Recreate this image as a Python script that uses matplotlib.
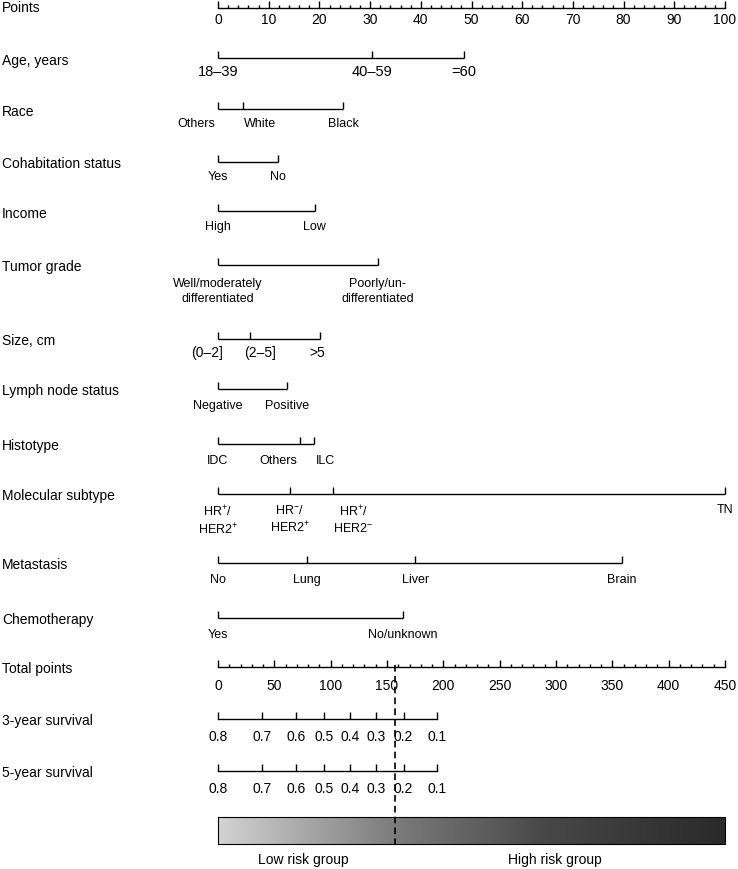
import numpy as np
import matplotlib
matplotlib.use("Agg")
import matplotlib.pyplot as plt
from matplotlib.colors import LinearSegmentedColormap
from matplotlib.transforms import blended_transform_factory

plt.rcParams['font.family'] = ['Liberation Sans', 'DejaVu Sans']
plt.rcParams['mathtext.fontset'] = 'custom'
plt.rcParams['mathtext.rm'] = 'Liberation Sans'
plt.rcParams['mathtext.it'] = 'Liberation Sans:italic'

# ---- data ----
age_levels = ['18–39', '40–59', '=60']
age_pts = [0, 30.4, 48.5]
race_levels = ['Others', 'White', 'Black']
race_pts = [0, 4.9, 24.7]
cohab_levels = ['Yes', 'No']
cohab_pts = [0, 11.8]
income_levels = ['High', 'Low']
income_pts = [0, 19.1]
grade_levels = ['Well/moderately\ndifferentiated', 'Poorly/un-\ndifferentiated']
grade_pts = [0, 31.5]
size_levels = ['(0–2]', '(2–5]', '>5']
size_pts = [0, 6.3, 20.1]
lymph_levels = ['Negative', 'Positive']
lymph_pts = [0, 13.7]
histo_levels = ['IDC', 'Others', 'ILC']
histo_pts = [0, 16.2, 18.9]
subtype_levels = ['HR$^{+}$/\nHER2$^{+}$', 'HR$^{-}$/\nHER2$^{+}$', 'HR$^{+}$/\nHER2$^{-}$', 'TN']
subtype_pts = [0, 14.2, 22.7, 100]
meta_levels = ['No', 'Lung', 'Liver', 'Brain']
meta_pts = [0, 17.6, 38.9, 79.7]
chemo_levels = ['Yes', 'No/unknown']
chemo_pts = [0, 36.5]

total_max = 450
surv_labels = ['0.8', '0.7', '0.6', '0.5', '0.4', '0.3', '0.2', '0.1']
surv3_total = [0, 39, 69, 94.4, 117.4, 140.5, 164.8, 194.6]
surv5_total = [0, 39, 69, 94.4, 117.4, 140.5, 164.8, 194.6]
cutoff_total = 157.4

# ---- layout ----
W, H = 738, 870
px0, px100 = 218, 725          # pixel position of 0 and 100 points
ppu = (px100 - px0) / 100.0
fig = plt.figure(figsize=(W / 100, H / 100), dpi=100)
ax = fig.add_axes([0, 0, 1, 1])
ax.set_xlim(-px0 / ppu, (W - px0) / ppu)
ax.set_ylim(H, 0)
ax.axis('off')
name_tr = blended_transform_factory(fig.transFigure, ax.transData)

LW = 1.0
TICK = 7
small = 9
big = 10


def name(y, s):
    ax.text(2 / W, y + 1.5, s, transform=name_tr, fontsize=big, va='center', ha='left')


def factor_row(y, levels, pts, label, fs=small, nudge=None, ly=15, top=False):
    name(y, label)
    ax.plot([min(pts), max(pts)], [y, y], color='black', lw=LW, solid_capstyle='butt')
    ax.vlines(pts, y - TICK, y, color='black', lw=LW)
    nudge = nudge or {}
    for lv, p in zip(levels, pts):
        dx = nudge.get(lv, 0)
        ax.annotate(lv, (p, y + ly), xytext=(dx * 0.72, 0), textcoords='offset points',
                    ha='center', va='top' if top else 'center',
                    fontsize=fs, linespacing=1.3)


# Points scale
y = 9
name(y - 2, 'Points')
ax.plot([0, 100], [y, y], color='black', lw=LW)
for v in np.arange(0, 101, 2):
    ax.vlines(v, y - (7 if v % 10 == 0 else 3.5), y, color='black', lw=LW)
for v in range(0, 101, 10):
    ax.text(v, y + 11, str(v), ha='center', va='center', fontsize=big)

factor_row(59, age_levels, age_pts, 'Age, years', fs=10.5, ly=13)
factor_row(110, race_levels, race_pts, 'Race', nudge={'Others': -22, 'White': 17}, ly=14)
factor_row(163, cohab_levels, cohab_pts, 'Cohabitation status', ly=14)
factor_row(212, income_levels, income_pts, 'Income', ly=15)
factor_row(266, grade_levels, grade_pts, 'Tumor grade', ly=12.5, top=True)
factor_row(340, size_levels, size_pts, 'Size, cm', fs=10,
           nudge={'(0–2]': -11, '(2–5]': 10, '>5': -3}, ly=13.5)
factor_row(390, lymph_levels, lymph_pts, 'Lymph node status', ly=16)
factor_row(445, histo_levels, histo_pts, 'Histotype', nudge={'Others': -22, 'ILC': 12}, ly=16)
factor_row(495, subtype_levels, subtype_pts, 'Molecular subtype',
           nudge={'HR$^{+}$/\nHER2$^{-}$': 20}, ly=9, top=True)
factor_row(564, meta_levels, meta_pts, 'Metastasis', ly=16)
factor_row(619, chemo_levels, chemo_pts, 'Chemotherapy', ly=16)

# Total points scale
y = 668
name(y, 'Total points')
ax.plot([0, 100], [y, y], color='black', lw=LW)
to_pts = 100.0 / total_max
for v in np.arange(0, total_max + 1, 10):
    ax.vlines(v * to_pts, y - (7 if v % 50 == 0 else 3.5), y, color='black', lw=LW)
for v in range(0, total_max + 1, 50):
    ax.text(v * to_pts, y + 18, str(v), ha='center', va='center', fontsize=big)


def surv_row(y, totals, label):
    name(y, label)
    xs = [t * to_pts for t in totals]
    ax.plot([min(xs), max(xs)], [y, y], color='black', lw=LW)
    ax.vlines(xs, y - TICK, y, color='black', lw=LW)
    for s, x in zip(surv_labels, xs):
        ax.text(x, y + 17, s, ha='center', va='center', fontsize=big)


surv_row(720, surv3_total, '3-year survival')
surv_row(772, surv5_total, '5-year survival')

# risk gradient bar
cmap = LinearSegmentedColormap.from_list(
    'risk', [(0, '#d3d3d3'), (0.35, '#7b7b7b'), (0.65, '#474747'), (1, '#2a2a2a')])
grad = np.linspace(0, 1, 256).reshape(1, -1)
ax.imshow(grad, cmap=cmap, aspect='auto', extent=(0, 100, 845, 818), zorder=1)
ax.plot([0, 100, 100, 0, 0], [818, 818, 845, 845, 818], color='black', lw=0.8, zorder=2)
ax.text((303 - px0) / ppu, 860, 'Low risk group', ha='center', va='center', fontsize=big)
ax.text((555 - px0) / ppu, 860, 'High risk group', ha='center', va='center', fontsize=big)

# cut-off dashed line
ax.plot([cutoff_total * to_pts] * 2, [666, 845], color='black', lw=1.2,
        linestyle=(0, (4, 2.5)), zorder=3)

ax.set_xlim(-px0 / ppu, (W - px0) / ppu)
ax.set_ylim(H, 0)
fig.savefig('out.png', dpi=100)
